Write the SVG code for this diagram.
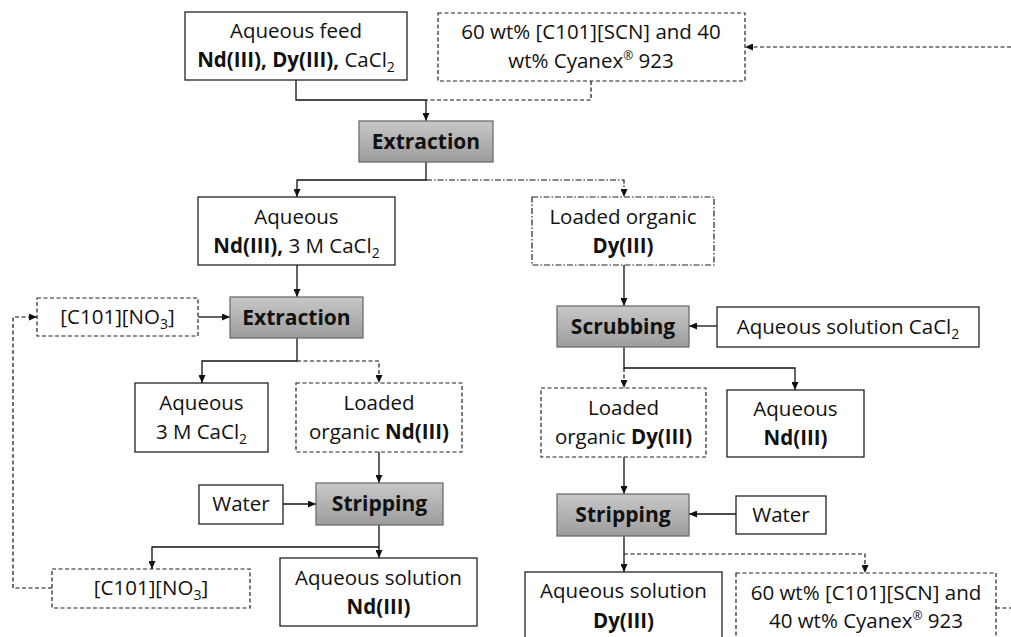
<svg xmlns="http://www.w3.org/2000/svg" width="1011" height="637" viewBox="0 0 1011 637">
<defs>
<linearGradient id="gray" x1="0" y1="0" x2="0" y2="1">
<stop offset="0" stop-color="#c8c8c8"/>
<stop offset="1" stop-color="#9c9c9c"/>
</linearGradient>
<marker id="ah" markerUnits="userSpaceOnUse" markerWidth="8" markerHeight="7" refX="8" refY="3.5" orient="auto">
<path d="M0,0 L8,3.5 L0,7 z" fill="#111"/>
</marker>
</defs>
<style>
.box{fill:#fff;stroke:#222;stroke-width:1.3}
.dash{fill:#fff;stroke:#222;stroke-width:1.2;stroke-dasharray:4 2.5}
.dd{fill:#fff;stroke:#222;stroke-width:1.2;stroke-dasharray:6 2 1.5 2}
.proc{fill:url(#gray);stroke:#6e6e6e;stroke-width:1.3}
text{font-family:"Open Sans","Noto Sans","Liberation Sans",sans-serif;font-size:20.5px;fill:#111;text-anchor:middle}
.b{font-weight:bold}
.ph{font-weight:bold;font-size:21px}
.ln{fill:none;stroke:#111;stroke-width:1.3}
.ld{fill:none;stroke:#111;stroke-width:1.2;stroke-dasharray:4 2.5}
.ldd{fill:none;stroke:#111;stroke-width:1.2;stroke-dasharray:6 2 1.5 2}
</style>
<g id="connectors">
<path class="ln" d="M296,80 V100 H426 V121" marker-end="url(#ah)"/>
<path class="ld" d="M591,81 V100 H426"/>
<path class="ld" d="M1011,47 H745" marker-end="url(#ah)"/>
<path class="ln" d="M426,162 V180 H297 V197" marker-end="url(#ah)"/>
<path class="ldd" d="M426,180 H624 V197" marker-end="url(#ah)"/>
<path class="ln" d="M297,265 V297" marker-end="url(#ah)"/>
<path class="ln" d="M198,317 H230" marker-end="url(#ah)"/>
<path class="ld" d="M52,588 H13 V317 H37" marker-end="url(#ah)"/>
<path class="ln" d="M297,338 V361 H202 V383" marker-end="url(#ah)"/>
<path class="ld" d="M297,361 H379 V383" marker-end="url(#ah)"/>
<path class="ln" d="M379,452 V483" marker-end="url(#ah)"/>
<path class="ln" d="M283,504 H316" marker-end="url(#ah)"/>
<path class="ln" d="M379,525 V558" marker-end="url(#ah)"/>
<path class="ln" d="M379,547 H152 V569" marker-end="url(#ah)"/>
<path class="ln" d="M624,265 V306" marker-end="url(#ah)"/>
<path class="ln" d="M717,326 H689" marker-end="url(#ah)"/>
<path class="ln" d="M624,347 V368 H795 V390" marker-end="url(#ah)"/>
<path class="ld" d="M624,368 V388" marker-end="url(#ah)"/>
<path class="ln" d="M624,457 V494" marker-end="url(#ah)"/>
<path class="ln" d="M736,514 H689" marker-end="url(#ah)"/>
<path class="ln" d="M624,536 V572" marker-end="url(#ah)"/>
<path class="ld" d="M624,554 H865 V573" marker-end="url(#ah)"/>
<path class="ld" d="M996,608 H1011"/>
</g>
<g id="feed">
<rect class="box" x="185" y="12" width="222" height="68"/>
<text x="296" y="38">Aqueous feed</text>
<text x="296" y="67"><tspan class="b">Nd(III), Dy(III),</tspan> CaCl<tspan font-size="14" dy="5">2</tspan></text>
</g>
<g id="solvent-top">
<rect class="dash" x="438" y="13" width="307" height="68"/>
<text x="591" y="39">60 wt% [C101][SCN] and 40</text>
<text x="591" y="68">wt% Cyanex<tspan font-size="12" dy="-8">®</tspan><tspan dy="8"> 923</tspan></text>
</g>
<g id="extraction1">
<rect class="proc" x="359" y="121" width="134" height="41"/>
<text class="ph" x="426" y="149">Extraction</text>
</g>
<g id="aq-nd-cacl2">
<rect class="box" x="198" y="197" width="197" height="68"/>
<text x="296.5" y="224">Aqueous</text>
<text x="296.5" y="253"><tspan class="b">Nd(III),</tspan> 3 M CaCl<tspan font-size="14" dy="5">2</tspan></text>
</g>
<g id="loaded-dy1">
<rect class="dd" x="532" y="197" width="182" height="68"/>
<text x="623" y="224">Loaded organic</text>
<text class="b" x="623" y="253">Dy(III)</text>
</g>
<g id="c101-top">
<rect class="dash" x="37" y="298" width="161" height="38"/>
<text x="117.5" y="324">[C101][NO<tspan font-size="14" dy="5">3</tspan><tspan dy="-5">]</tspan></text>
</g>
<g id="extraction2">
<rect class="proc" x="230" y="297" width="133" height="41"/>
<text class="ph" x="296.5" y="325">Extraction</text>
</g>
<g id="scrubbing">
<rect class="proc" x="557" y="306" width="132" height="41"/>
<text class="ph" x="623" y="334">Scrubbing</text>
</g>
<g id="aq-cacl2">
<rect class="box" x="717" y="307" width="262" height="40"/>
<text x="848" y="334">Aqueous solution CaCl<tspan font-size="14" dy="5">2</tspan></text>
</g>
<g id="aq-3m">
<rect class="box" x="135" y="383" width="133" height="69"/>
<text x="201.5" y="410">Aqueous</text>
<text x="201.5" y="439">3 M CaCl<tspan font-size="14" dy="5">2</tspan></text>
</g>
<g id="loaded-nd">
<rect class="dash" x="296" y="383" width="166" height="69"/>
<text x="379" y="410">Loaded</text>
<text x="379" y="439">organic <tspan class="b">Nd(III)</tspan></text>
</g>
<g id="loaded-dy2">
<rect class="dash" x="541" y="388" width="165" height="69"/>
<text x="623.5" y="415">Loaded</text>
<text x="623.5" y="444">organic <tspan class="b">Dy(III)</tspan></text>
</g>
<g id="aq-nd">
<rect class="box" x="727" y="390" width="137" height="67"/>
<text x="795.5" y="416">Aqueous</text>
<text class="b" x="795.5" y="445">Nd(III)</text>
</g>
<g id="water-left">
<rect class="box" x="199" y="485" width="84" height="39"/>
<text x="241" y="511">Water</text>
</g>
<g id="stripping-nd">
<rect class="proc" x="316" y="483" width="127" height="42"/>
<text class="ph" x="379.5" y="511">Stripping</text>
</g>
<g id="stripping-dy">
<rect class="proc" x="557" y="494" width="132" height="42"/>
<text class="ph" x="623" y="522">Stripping</text>
</g>
<g id="water-right">
<rect class="box" x="736" y="496" width="90" height="38"/>
<text x="781" y="522">Water</text>
</g>
<g id="c101-bottom">
<rect class="dash" x="52" y="569" width="198" height="39"/>
<text x="151" y="595">[C101][NO<tspan font-size="14" dy="5">3</tspan><tspan dy="-5">]</tspan></text>
</g>
<g id="aq-sol-nd">
<rect class="box" x="280" y="558" width="197" height="68"/>
<text x="378.5" y="585">Aqueous solution</text>
<text class="b" x="378.5" y="614">Nd(III)</text>
</g>
<g id="aq-sol-dy">
<rect class="box" x="525" y="572" width="197" height="80"/>
<text x="623.5" y="598">Aqueous solution</text>
<text class="b" x="623.5" y="628">Dy(III)</text>
</g>
<g id="solvent-bottom">
<rect class="dash" x="736" y="573" width="260" height="80"/>
<text x="866" y="600">60 wt% [C101][SCN] and</text>
<text x="866" y="628">40 wt% Cyanex<tspan font-size="12" dy="-8">®</tspan><tspan dy="8"> 923</tspan></text>
</g>
</svg>
